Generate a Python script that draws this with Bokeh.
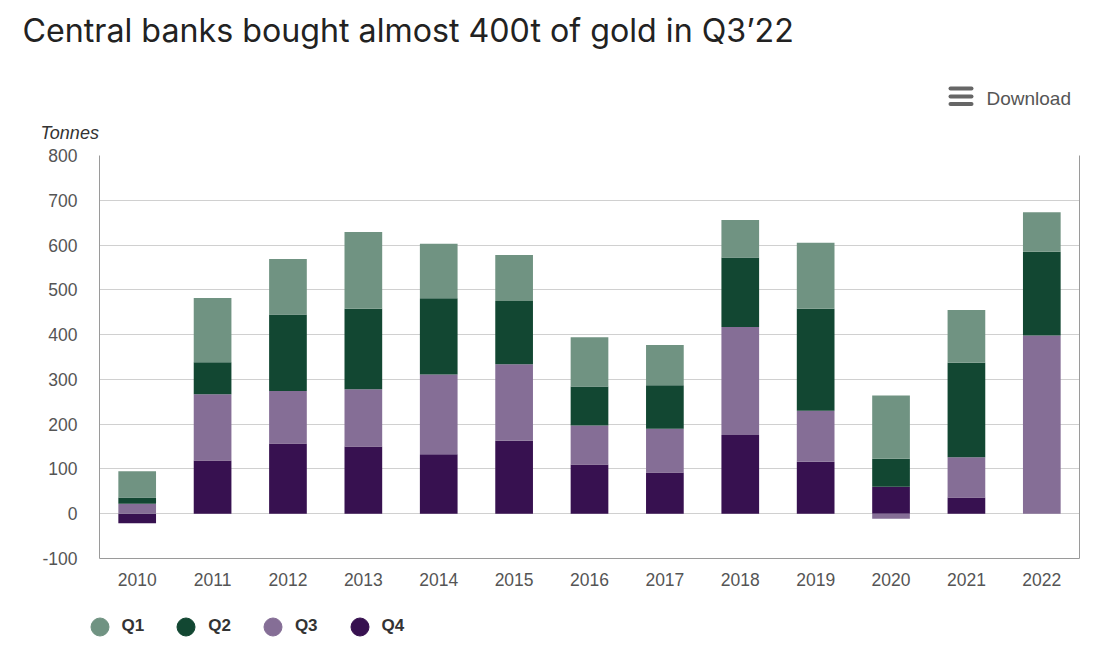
from bokeh.plotting import figure
from bokeh.layouts import column
from bokeh.models import (Range1d, FactorRange, Legend, LegendItem,
                          LinearAxis, FixedTicker, ColumnDataSource,
                          PrintfTickFormatter)
from bokeh.core.properties import value
from bokeh.embed import file_html
from bokeh.resources import INLINE

# ---- data (tonnes) ----
years = [str(y) for y in range(2010, 2023)]
q1 = [59, 144, 124, 171, 122, 103, 110, 90, 84, 147, 141, 118, 88]
q2 = [14, 71, 171, 180, 170, 141, 87, 97, 155, 228, 63, 211, 187]
q3 = [22, 148, 117, 128, 178, 171, 87, 98, 241, 114, -11, 90, 398]
q4 = [-21, 119, 157, 150, 133, 163, 110, 92, 176, 116, 60, 36, 0]
series_labels = ["Q1", "Q2", "Q3", "Q4"]
y_ticks = [-100, 0, 100, 200, 300, 400, 500, 600, 700, 800]
title_text = "Central banks bought almost 400t of gold in Q3\u201922"

colors = {"Q1": "#709382", "Q2": "#124732", "Q3": "#856e96", "Q4": "#371150"}
series = {"Q1": q1, "Q2": q2, "Q3": q3, "Q4": q4}

W = 1095
HEAD_H = 145

# ---------- header (title, download, unit label) ----------
head = figure(width=W, height=HEAD_H, output_backend="svg", toolbar_location=None,
              x_range=Range1d(0, W), y_range=Range1d(HEAD_H, 0),
              x_axis_type=None, y_axis_type=None, min_border=0,
              frame_align=False)
head.outline_line_color = None
head.grid.visible = False
head.text(x=[22], y=[30], text=[title_text], text_font=value("Inter"),
          text_font_size="32.2px", text_color="#222222", text_baseline="middle")
head.text(x=[40], y=[132], text=["Tonnes"], text_font=value("Liberation Sans"),
          text_font_size="18px", text_font_style="italic", text_color="#333333",
          text_baseline="middle")
head.text(x=[986], y=[98], text=["Download"], text_font=value("Liberation Sans"),
          text_font_size="19px", text_color="#555555", text_baseline="middle")
head.segment(x0=[950, 950, 950], x1=[971, 971, 971], y0=[88, 96, 103.5],
             y1=[88, 96, 103.5], line_width=4, line_cap="round", line_color="#666666")

# ---------- main chart ----------
p = figure(width=W, height=455, output_backend="svg", toolbar_location=None,
           x_range=FactorRange(*years, range_padding=0),
           y_range=Range1d(-100, 800),
           min_border_left=99, min_border_right=16, min_border_top=10,
           min_border_bottom=42)
p.title = None
p.outline_line_color = None

n = len(years)
pos = [0] * n
neg = [0] * n
for name in ["Q4", "Q3", "Q2", "Q1"]:
    vals = series[name]
    bottoms, tops = [], []
    for i, v in enumerate(vals):
        if v >= 0:
            b = pos[i]; t = b + v; pos[i] = t
        else:
            b = neg[i]; t = b + v; neg[i] = t
        bottoms.append(b); tops.append(t)
    src = ColumnDataSource(dict(x=years, bottom=bottoms, top=tops))
    p.vbar(x="x", bottom="bottom", top="top", width=0.5, source=src,
           fill_color=colors[name], line_color=None)

p.yaxis.ticker = FixedTicker(ticks=y_ticks)
p.yaxis.formatter = PrintfTickFormatter(format="%d")
p.yaxis.major_tick_line_color = None
p.yaxis.minor_tick_line_color = None
p.yaxis.major_tick_out = 0
p.yaxis.major_tick_in = 0
p.yaxis.major_label_standoff = 22
p.yaxis.axis_line_color = "#9a9a9a"
p.yaxis.major_label_text_font = "Liberation Sans"
p.yaxis.major_label_text_font_size = "17.5px"
p.yaxis.major_label_text_color = "#555555"

p.xaxis.major_tick_line_color = None
p.xaxis.minor_tick_line_color = None
p.xaxis.major_tick_out = 0
p.xaxis.major_tick_in = 0
p.xaxis.major_label_standoff = 14
p.xaxis.axis_line_color = "#9a9a9a"
p.xaxis.major_label_text_font = "Liberation Sans"
p.xaxis.major_label_text_font_size = "17.5px"
p.xaxis.major_label_text_color = "#555555"

right_axis = LinearAxis(ticker=FixedTicker(ticks=[]), axis_line_color="#9a9a9a",
                        major_tick_line_color=None, minor_tick_line_color=None,
                        major_label_text_font_size="0px")
p.add_layout(right_axis, "right")

p.xgrid.grid_line_color = None
p.ygrid.grid_line_color = "#a0a0a0"
p.ygrid.grid_line_dash = "1 1"

# ---------- legend ----------
LEG_H = 50
leg = figure(width=W, height=LEG_H, output_backend="svg", toolbar_location=None,
             x_range=Range1d(0, W), y_range=Range1d(LEG_H, 0),
             x_axis_type=None, y_axis_type=None, min_border=0,
             frame_align=False)
leg.outline_line_color = None
leg.grid.visible = False
items = []
for name in series_labels:
    # legend-key renderer only: a single undefined (NaN) point draws nothing
    r = leg.scatter(x=[float("nan")], y=[float("nan")], marker="circle", size=18,
                    fill_color=colors[name], line_color=colors[name])
    items.append(LegendItem(label=name, renderers=[r]))
legend = Legend(items=items, orientation="horizontal", location=(76.5, 1.5),
                glyph_width=45, glyph_height=45, label_standoff=0, spacing=19,
                padding=0, margin=0, border_line_color=None,
                background_fill_alpha=0, label_text_font="Liberation Sans",
                label_text_font_size="17px", label_text_font_style="bold",
                label_text_color="#333333")
leg.add_layout(legend, "center")

layout = column(head, p, leg, spacing=0)
open("out.html", "w").write(file_html(layout, INLINE))
